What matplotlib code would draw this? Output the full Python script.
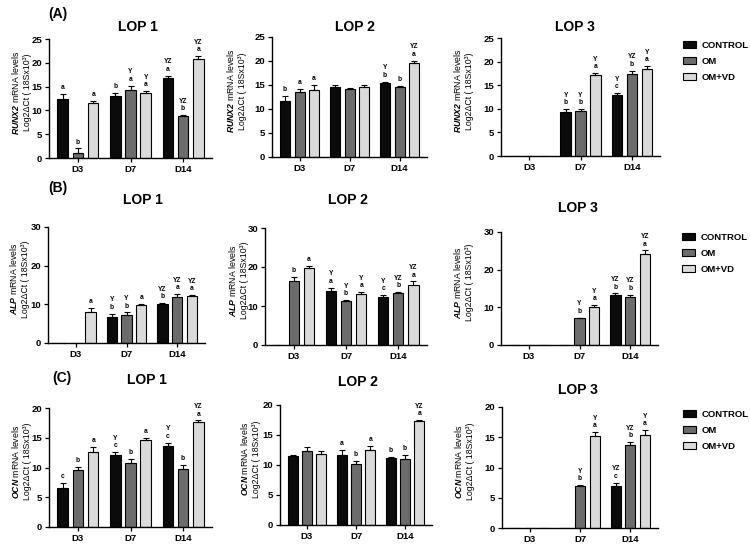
import numpy as np
import matplotlib
matplotlib.use("Agg")
import matplotlib.pyplot as plt

plt.rcParams['font.family'] = ['Liberation Sans', 'DejaVu Sans']
plt.rcParams['mathtext.fontset'] = 'custom'
plt.rcParams['mathtext.rm'] = 'Liberation Sans'
plt.rcParams['mathtext.bfit'] = 'Liberation Sans:italic:bold'
plt.rcParams['mathtext.it'] = 'Liberation Sans:italic'
plt.rcParams['mathtext.bf'] = 'Liberation Sans:bold'

nan = np.nan
groups = ["CONTROL", "OM", "OM+VD"]
days = ["D3", "D7", "D14"]
genes = ["RUNX2", "ALP", "OCN"]
lops = ["LOP 1", "LOP 2", "LOP 3"]
panel_tags = ["(A)", "(B)", "(C)"]

# rows: groups (CONTROL, OM, OM+VD); columns: days (D3, D7, D14)
runx2_lop1_mean = [[12.5, 13.0, 16.9], [1.0, 14.3, 8.8], [11.6, 13.7, 20.8]]
runx2_lop1_err = [[0.9, 0.6, 0.4], [1.0, 0.9, 0.2], [0.3, 0.3, 0.6]]
runx2_lop1_sig = [["a", "b", "YZ\na"], ["b", "Y\na", "YZ\nb"], ["a", "Y\na", "YZ\na"]]

runx2_lop2_mean = [[11.7, 14.6, 15.4], [13.5, 14.2, 14.6], [14.0, 14.6, 19.6]]
runx2_lop2_err = [[1.1, 0.3, 0.3], [0.6, 0.2, 0.1], [1.0, 0.4, 0.5]]
runx2_lop2_sig = [["b", "", "Y\nb"], ["a", "", "b"], ["a", "", "YZ\na"]]

runx2_lop3_mean = [[nan, 9.3, 12.9], [nan, 9.5, 17.4], [nan, 17.1, 18.4]]
runx2_lop3_err = [[nan, 0.7, 0.5], [nan, 0.5, 0.7], [nan, 0.4, 0.7]]
runx2_lop3_sig = [["", "Y\nb", "Y\nc"], ["", "Y\nb", "YZ\nb"], ["", "Y\na", "Y\na"]]

alp_lop1_mean = [[nan, 6.7, 10.0], [nan, 7.2, 11.9], [8.0, 9.8, 12.2]]
alp_lop1_err = [[nan, 0.9, 0.4], [nan, 0.7, 0.8], [1.0, 0.3, 0.2]]
alp_lop1_sig = [["", "Y\nb", "YZ\nb"], ["", "Y\nb", "YZ\na"], ["a", "a", "YZ\na"]]

alp_lop2_mean = [[nan, 13.9, 12.3], [16.4, 11.3, 13.3], [19.8, 13.1, 15.4]]
alp_lop2_err = [[nan, 0.8, 0.6], [1.1, 0.3, 0.3], [0.5, 0.4, 0.9]]
alp_lop2_sig = [["", "Y\na", "Y\nc"], ["b", "Y\nb", "YZ\nb"], ["a", "Y\na", "YZ\na"]]

alp_lop3_mean = [[nan, nan, 13.4], [nan, 7.1, 12.7], [nan, 10.0, 24.2]]
alp_lop3_err = [[nan, nan, 0.3], [nan, 0.2, 0.7], [nan, 0.7, 0.9]]
alp_lop3_sig = [["", "", "YZ\nb"], ["", "Y\nb", "YZ\nb"], ["", "Y\na", "YZ\na"]]

ocn_lop1_mean = [[6.5, 12.1, 13.6], [9.5, 10.7, 9.8], [12.6, 14.6, 17.6]]
ocn_lop1_err = [[0.9, 0.5, 0.6], [0.6, 0.7, 0.6], [0.8, 0.3, 0.3]]
ocn_lop1_sig = [["c", "Y\nc", "Y\nc"], ["b", "b", "b"], ["a", "a", "YZ\na"]]

ocn_lop2_mean = [[11.5, 11.6, 11.2], [12.3, 10.2, 11.0], [11.8, 12.5, 17.4]]
ocn_lop2_err = [[0.2, 0.9, 0.1], [0.7, 0.4, 0.6], [0.6, 0.7, 0.1]]
ocn_lop2_sig = [["", "a", "b"], ["", "b", "b"], ["", "a", "YZ\na"]]

ocn_lop3_mean = [[nan, nan, 6.9], [nan, 7.0, 13.7], [nan, 15.2, 15.4]]
ocn_lop3_err = [[nan, nan, 0.6], [nan, 0.1, 0.5], [nan, 0.6, 0.8]]
ocn_lop3_sig = [["", "", "YZ\nc"], ["", "Y\nb", "YZ\nb"], ["", "Y\na", "Y\na"]]

ymax = [25, 30, 20]
ystep = [5, 10, 5]

panels = [
    [(runx2_lop1_mean, runx2_lop1_err, runx2_lop1_sig),
     (runx2_lop2_mean, runx2_lop2_err, runx2_lop2_sig),
     (runx2_lop3_mean, runx2_lop3_err, runx2_lop3_sig)],
    [(alp_lop1_mean, alp_lop1_err, alp_lop1_sig),
     (alp_lop2_mean, alp_lop2_err, alp_lop2_sig),
     (alp_lop3_mean, alp_lop3_err, alp_lop3_sig)],
    [(ocn_lop1_mean, ocn_lop1_err, ocn_lop1_sig),
     (ocn_lop2_mean, ocn_lop2_err, ocn_lop2_sig),
     (ocn_lop3_mean, ocn_lop3_err, ocn_lop3_sig)],
]

# layout (pixel boxes: left, right, top, bottom)
W, H = 750, 544
boxes = [
    [(49, 212, 39, 158), (272, 427, 37, 157), (501, 660, 38, 156)],
    [(48, 205, 227, 343), (265, 427, 228, 345), (501, 658, 232, 345)],
    [(49, 212, 408, 527), (280, 432, 405, 525), (502, 658, 407, 528)],
]
titles_xy = [
    [(138, 27), (355, 27), (575, 27)],
    [(143, 200), (348, 200), (578, 208)],
    [(147, 380), (358, 382), (578, 390)],
]
ylabel_x = [[21, 236, 463], [19, 238, 463], [21, 250, 464]]
tag_xy = [(58, 14), (58, 188), (62, 378)]
legend_xy = [(683, 41), (682, 233), (683, 410)]

colors = ["#0b0b0b", "#6c6c6c", "#dadada"]
offsets = [-0.29, 0.0, 0.29]
width = 0.2

fig = plt.figure(figsize=(W / 100, H / 100), dpi=100)
fig.patch.set_facecolor("white")

def fx(px):
    return px / W

def fy(py):
    return 1 - py / H

x = np.arange(len(days))
for r in range(3):
    for c in range(3):
        l, rr, t, b = boxes[r][c]
        ax = fig.add_axes([fx(l), fy(b), (rr - l) / W, (b - t) / H])
        means, errs, sigs = panels[r][c]
        handles = []
        for g in range(3):
            m = np.array(means[g], dtype=float)
            e = np.array(errs[g], dtype=float)
            h = ax.bar(x + offsets[g], np.nan_to_num(m), width, color=colors[g],
                       edgecolor="black", linewidth=0.8, label=groups[g])
            handles.append(h)
            ok = ~np.isnan(m)
            ax.errorbar((x + offsets[g])[ok], m[ok], yerr=[np.zeros(ok.sum()), e[ok]],
                        fmt="none", ecolor="black", elinewidth=0.8, capsize=2.2, capthick=0.8)
            for d in range(3):
                if ok[d] and sigs[g][d]:
                    ax.text(x[d] + offsets[g], m[d] + e[d] + ymax[r] * 0.025, sigs[g][d],
                            ha="center", va="bottom", fontsize=4.8, fontweight="bold",
                            linespacing=1.05)
        ax.set_xlim(-0.55, 2.55)
        ax.set_ylim(0, ymax[r])
        ax.set_yticks(np.arange(0, ymax[r] + 0.1, ystep[r]))
        ax.set_xticks(x)
        ax.set_xticklabels(days)
        for s in ["top", "right"]:
            ax.spines[s].set_visible(False)
        for s in ["left", "bottom"]:
            ax.spines[s].set_linewidth(1.0)
        ax.tick_params(axis="both", length=3, width=0.9, labelsize=6.8, pad=2)
        for lab in ax.get_xticklabels() + ax.get_yticklabels():
            lab.set_fontweight("bold")
        ax.patch.set_alpha(0)
        fig.text(fx(titles_xy[r][c][0]), fy(titles_xy[r][c][1]), lops[c],
                 ha="center", va="center", fontsize=10, fontweight="bold")
        ylab = "$\\mathbfit{" + genes[r] + "}$ mRNA levels\nLog2\u0394Ct ( 18Sx10\u00b3)"
        fig.text(fx(ylabel_x[r][c]), fy((t + b) / 2 - 6), ylab, rotation=90,
                 ha="center", va="center", fontsize=6.3, linespacing=1.2)
        if c == 2:
            fig.legend(handles, groups, loc="upper left",
                       bbox_to_anchor=(fx(legend_xy[r][0]), fy(legend_xy[r][1])),
                       frameon=False, prop={"weight": "bold", "size": 6.8},
                       handlelength=1.4, handleheight=0.8, labelspacing=0.75,
                       handletextpad=0.55, borderaxespad=0, borderpad=0)
    fig.text(fx(tag_xy[r][0]), fy(tag_xy[r][1]), panel_tags[r], ha="center", va="center",
             fontsize=10, fontweight="bold")

fig.savefig("out.png", dpi=100)
